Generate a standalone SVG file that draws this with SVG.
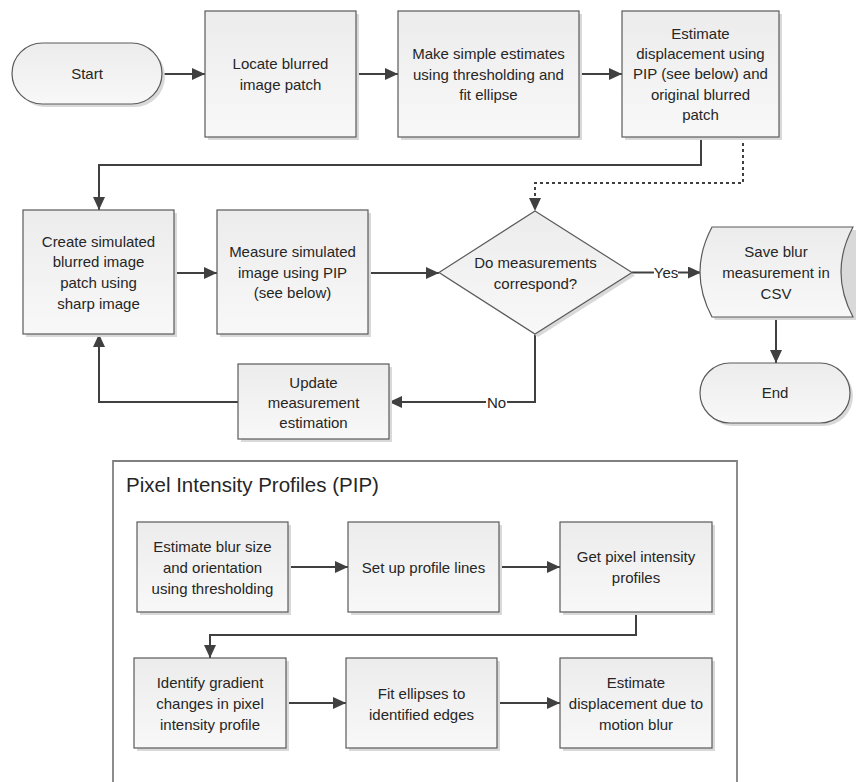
<svg xmlns="http://www.w3.org/2000/svg" width="856" height="782" viewBox="0 0 856 782">
<defs>
<linearGradient id="g" x1="0" y1="0" x2="0" y2="1">
<stop offset="0" stop-color="#ececec"/>
<stop offset="1" stop-color="#f8f8f8"/>
</linearGradient>
<marker id="ah" markerUnits="userSpaceOnUse" markerWidth="13" markerHeight="12" viewBox="0 0 13 12" refX="13" refY="6" orient="auto">
<path d="M0,0 L13,6 L0,12 Z" fill="#404040"/>
</marker>
<style>
.s{fill:url(#g);stroke:#5a5a5a;stroke-width:1.2}
.sh{fill:#d9d9d9;stroke:none}
.t{font-family:"Liberation Sans",Arial,sans-serif;font-size:15px;fill:#262626;text-anchor:middle}
.c{fill:none;stroke:#404040;stroke-width:2}
.d{fill:none;stroke:#404040;stroke-width:2;stroke-dasharray:3,3}
.f{fill:none;stroke:#808080;stroke-width:1.8}
.ti{font-family:"Liberation Sans",Arial,sans-serif;font-size:20.5px;fill:#262626}
</style>
</defs>
<rect width="856" height="782" fill="#ffffff"/>

<g id="pip-frame">
<path class="f" d="M113,782 V461 H737 V782"/>
<text class="ti" x="126" y="492">Pixel Intensity Profiles (PIP)</text>
</g>

<g id="connectors">
<path class="c" d="M162,74 H205" marker-end="url(#ah)"/>
<path class="c" d="M356,74 H398" marker-end="url(#ah)"/>
<path class="c" d="M579,74 H622" marker-end="url(#ah)"/>
<path class="c" d="M701,137 V165 H99 V210" marker-end="url(#ah)"/>
<path class="d" d="M743,137 V183 H535 V211" marker-end="url(#ah)"/>
<path class="c" d="M174,273 H217" marker-end="url(#ah)"/>
<path class="c" d="M368,273 H439" marker-end="url(#ah)"/>
<path class="c" d="M632,272.5 H701" marker-end="url(#ah)"/>
<path class="c" d="M776,317 V363" marker-end="url(#ah)"/>
<path class="c" d="M535,334 V402 H389" marker-end="url(#ah)"/>
<path class="c" d="M238,402 H99 V334" marker-end="url(#ah)"/>
<path class="c" d="M288,567 H348" marker-end="url(#ah)"/>
<path class="c" d="M499,567 H560" marker-end="url(#ah)"/>
<path class="c" d="M636,612 V635 H210 V658" marker-end="url(#ah)"/>
<path class="c" d="M286,703 H346" marker-end="url(#ah)"/>
<path class="c" d="M497,703 H560" marker-end="url(#ah)"/>
<rect x="654" y="263" width="24" height="18" fill="#ffffff"/>
<text class="t" x="666" y="278">Yes</text>
<rect x="486" y="393" width="21" height="18" fill="#ffffff"/>
<text class="t" x="496.5" y="407.5">No</text>
</g>

<g id="start">
<rect class="sh" x="15" y="46" width="150" height="61" rx="30.5"/>
<rect class="s" x="12" y="43" width="150" height="61" rx="30.5"/>
<text class="t" x="87" y="79">Start</text>
</g>

<g id="locate">
<rect class="sh" x="208" y="14" width="151" height="126"/>
<rect class="s" x="205" y="11" width="151" height="126"/>
<text class="t" x="280.5" y="69">Locate blurred</text>
<text class="t" x="280.5" y="90">image patch</text>
</g>

<g id="simple-estimates">
<rect class="sh" x="401" y="14" width="181" height="126"/>
<rect class="s" x="398" y="11" width="181" height="126"/>
<text class="t" x="488.5" y="59">Make simple estimates</text>
<text class="t" x="488.5" y="79.5">using thresholding and</text>
<text class="t" x="488.5" y="100">fit ellipse</text>
</g>

<g id="estimate-displacement">
<rect class="sh" x="625" y="14" width="157" height="126"/>
<rect class="s" x="622" y="11" width="157" height="126"/>
<text class="t" x="700.5" y="38.5">Estimate</text>
<text class="t" x="700.5" y="58.5">displacement using</text>
<text class="t" x="700.5" y="79">PIP (see below) and</text>
<text class="t" x="700.5" y="99.5">original blurred</text>
<text class="t" x="700.5" y="119.5">patch</text>
</g>

<g id="create-simulated">
<rect class="sh" x="26" y="213" width="151" height="124"/>
<rect class="s" x="23" y="210" width="151" height="124"/>
<text class="t" x="98.5" y="247">Create simulated</text>
<text class="t" x="98.5" y="267">blurred image</text>
<text class="t" x="98.5" y="288">patch using</text>
<text class="t" x="98.5" y="308.5">sharp image</text>
</g>

<g id="measure-simulated">
<rect class="sh" x="220" y="213" width="151" height="124"/>
<rect class="s" x="217" y="210" width="151" height="124"/>
<text class="t" x="292.5" y="257">Measure simulated</text>
<text class="t" x="292.5" y="278">image using PIP</text>
<text class="t" x="292.5" y="298">(see below)</text>
</g>

<g id="decision">
<polygon class="sh" points="538,214 635,275.5 538,337 442,275.5"/>
<polygon class="s" points="535,211 632,272.5 535,334 439,272.5"/>
<text class="t" x="535.5" y="268">Do measurements</text>
<text class="t" x="535.5" y="288.5">correspond?</text>
</g>

<g id="save-csv">
<path class="sh" d="M715,230 H856 V320 H715 Q691,275 715,230 Z"/>
<path class="s" d="M712,227 H853 Q829,272 853,317 H712 Q688,272 712,227 Z"/>
<text class="t" x="776" y="257">Save blur</text>
<text class="t" x="776" y="277.5">measurement in</text>
<text class="t" x="776" y="298.5">CSV</text>
</g>

<g id="end">
<rect class="sh" x="703" y="366" width="150" height="60" rx="30"/>
<rect class="s" x="700" y="363" width="150" height="60" rx="30"/>
<text class="t" x="775" y="398">End</text>
</g>

<g id="update">
<rect class="sh" x="241" y="367" width="151" height="75"/>
<rect class="s" x="238" y="364" width="151" height="75"/>
<text class="t" x="313.5" y="388">Update</text>
<text class="t" x="313.5" y="407.5">measurement</text>
<text class="t" x="313.5" y="428">estimation</text>
</g>

<g id="blur-size">
<rect class="sh" x="140" y="525" width="151" height="90"/>
<rect class="s" x="137" y="522" width="151" height="90"/>
<text class="t" x="212.5" y="552">Estimate blur size</text>
<text class="t" x="212.5" y="572.5">and orientation</text>
<text class="t" x="212.5" y="593.5">using thresholding</text>
</g>

<g id="profile-lines">
<rect class="sh" x="351" y="525" width="151" height="90"/>
<rect class="s" x="348" y="522" width="151" height="90"/>
<text class="t" x="423.5" y="572.5">Set up profile lines</text>
</g>

<g id="pixel-profiles">
<rect class="sh" x="563" y="525" width="152" height="90"/>
<rect class="s" x="560" y="522" width="152" height="90"/>
<text class="t" x="636" y="562">Get pixel intensity</text>
<text class="t" x="636" y="583">profiles</text>
</g>

<g id="gradient-changes">
<rect class="sh" x="137" y="661" width="152" height="90"/>
<rect class="s" x="134" y="658" width="152" height="90"/>
<text class="t" x="210" y="688">Identify gradient</text>
<text class="t" x="210" y="708.5">changes in pixel</text>
<text class="t" x="210" y="729.5">intensity profile</text>
</g>

<g id="fit-ellipses">
<rect class="sh" x="349" y="661" width="151" height="90"/>
<rect class="s" x="346" y="658" width="151" height="90"/>
<text class="t" x="421.5" y="698.5">Fit ellipses to</text>
<text class="t" x="421.5" y="719.5">identified edges</text>
</g>

<g id="motion-displacement">
<rect class="sh" x="563" y="661" width="152" height="90"/>
<rect class="s" x="560" y="658" width="152" height="90"/>
<text class="t" x="636" y="688">Estimate</text>
<text class="t" x="636" y="708.5">displacement due to</text>
<text class="t" x="636" y="729.5">motion blur</text>
</g>
</svg>
